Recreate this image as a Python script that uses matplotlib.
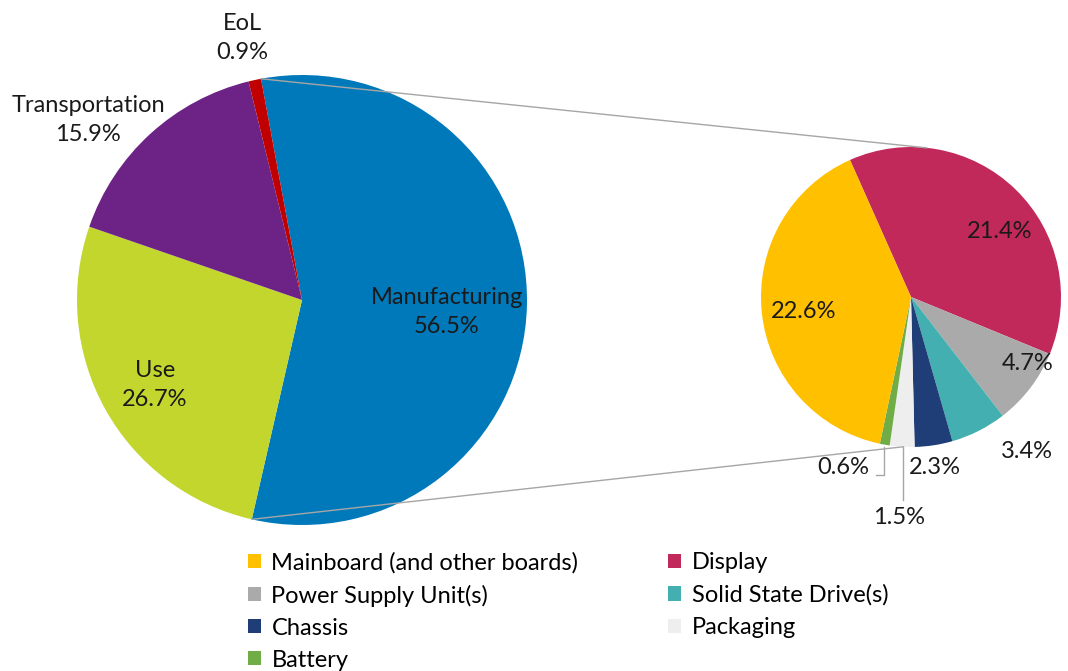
import numpy as np
import matplotlib.pyplot as plt
from matplotlib.patches import Patch

plt.rcParams['font.family'] = ['Lato', 'DejaVu Sans']

# main pie
main_labels = ['Manufacturing', 'Use', 'Transportation', 'EoL']
main_values = [56.5, 26.7, 15.9, 0.9]
main_colors = ['#0079BA', '#C2D62E', '#6C2385', '#C00000']

# breakdown of manufacturing
sub_labels = ['Display', 'Power Supply Unit(s)', 'Solid State Drive(s)', 'Chassis',
              'Packaging', 'Battery', 'Mainboard (and other boards)']
sub_values = [21.4, 4.7, 3.4, 2.3, 1.5, 0.6, 22.6]
sub_colors = ['#C2295B', '#AAAAAA', '#44AFB0', '#1F3E78', '#EEEEEE', '#70AD47', '#FFC000']

W, H = 1068, 671
fig = plt.figure(figsize=(W / 100, H / 100), dpi=100)
ax = fig.add_axes([0, 0, 1, 1])

c1, r1, a1 = (302, 371), 225, 100.5
c2, r2, a2 = (911, 374), 150, 114

ax.pie(main_values, colors=main_colors, center=c1, radius=r1, startangle=a1,
       counterclock=False, wedgeprops=dict(linewidth=0), frame=True)
ax.pie(sub_values, colors=sub_colors, center=c2, radius=r2, startangle=a2,
       counterclock=False, wedgeprops=dict(linewidth=0), frame=True)
ax.set_xlim(0, W)
ax.set_ylim(0, H)
ax.set_aspect('equal')
ax.axis('off')

def pt(c, r, ang):
    t = np.radians(ang)
    return c[0] + r * np.cos(t), c[1] + r * np.sin(t)

# connector lines
manu_end = a1 - main_values[0] / sum(main_values) * 360
p1 = pt(c1, r1, a1)
p2 = pt(c1, r1, manu_end)
q1 = pt(c2, r2, 84)
q2 = pt(c2, r2, -93)
ax.plot([p1[0], q1[0]], [p1[1], q1[1]], color='#A6A6A6', lw=1)
ax.plot([p2[0], q2[0]], [p2[1], q2[1]], color='#A6A6A6', lw=1)

fs = 17
tk = dict(fontsize=fs, ha='center', va='center', color='#1a1a1a', linespacing=1.5)
ax.text(447, 671 - 312, 'Manufacturing\n56.5%', **tk)
ax.text(155, 671 - 385, 'Use\n26.7%', **tk)
ax.text(88, 671 - 120, 'Transportation\n15.9%', **tk)
ax.text(242, 671 - 38, 'EoL\n0.9%', **tk)

ax.text(1000, 671 - 232, '21.4%', **tk)
ax.text(804, 671 - 311, '22.6%', **tk)
ax.text(1028, 671 - 363, '4.7%', **tk)
ax.text(1027, 671 - 451, '3.4%', **tk)
ax.text(935, 671 - 467, '2.3%', **tk)
ax.text(899, 671 - 518, '1.5%', **tk)
ax.text(843, 671 - 467, '0.6%', **tk)

# leader lines for the two smallest slices
ax.plot([884, 884, 876], [671 - 447, 671 - 475, 671 - 475], color='#A6A6A6', lw=1)
ax.plot([903, 903], [671 - 447, 671 - 500], color='#A6A6A6', lw=1)

order = [6, 1, 3, 5, 0, 2, 4]
handles = [Patch(facecolor=sub_colors[i], edgecolor='none', label=sub_labels[i]) for i in order]
fig.legend(handles=handles, ncol=2, loc='upper left', bbox_to_anchor=(236 / W, 1 - 540 / H),
           frameon=False, fontsize=fs, handlelength=0.55, handleheight=0.55,
           handletextpad=0.45, labelspacing=0.47, columnspacing=3.8, borderpad=0)

plt.savefig('out.png', dpi=100)
